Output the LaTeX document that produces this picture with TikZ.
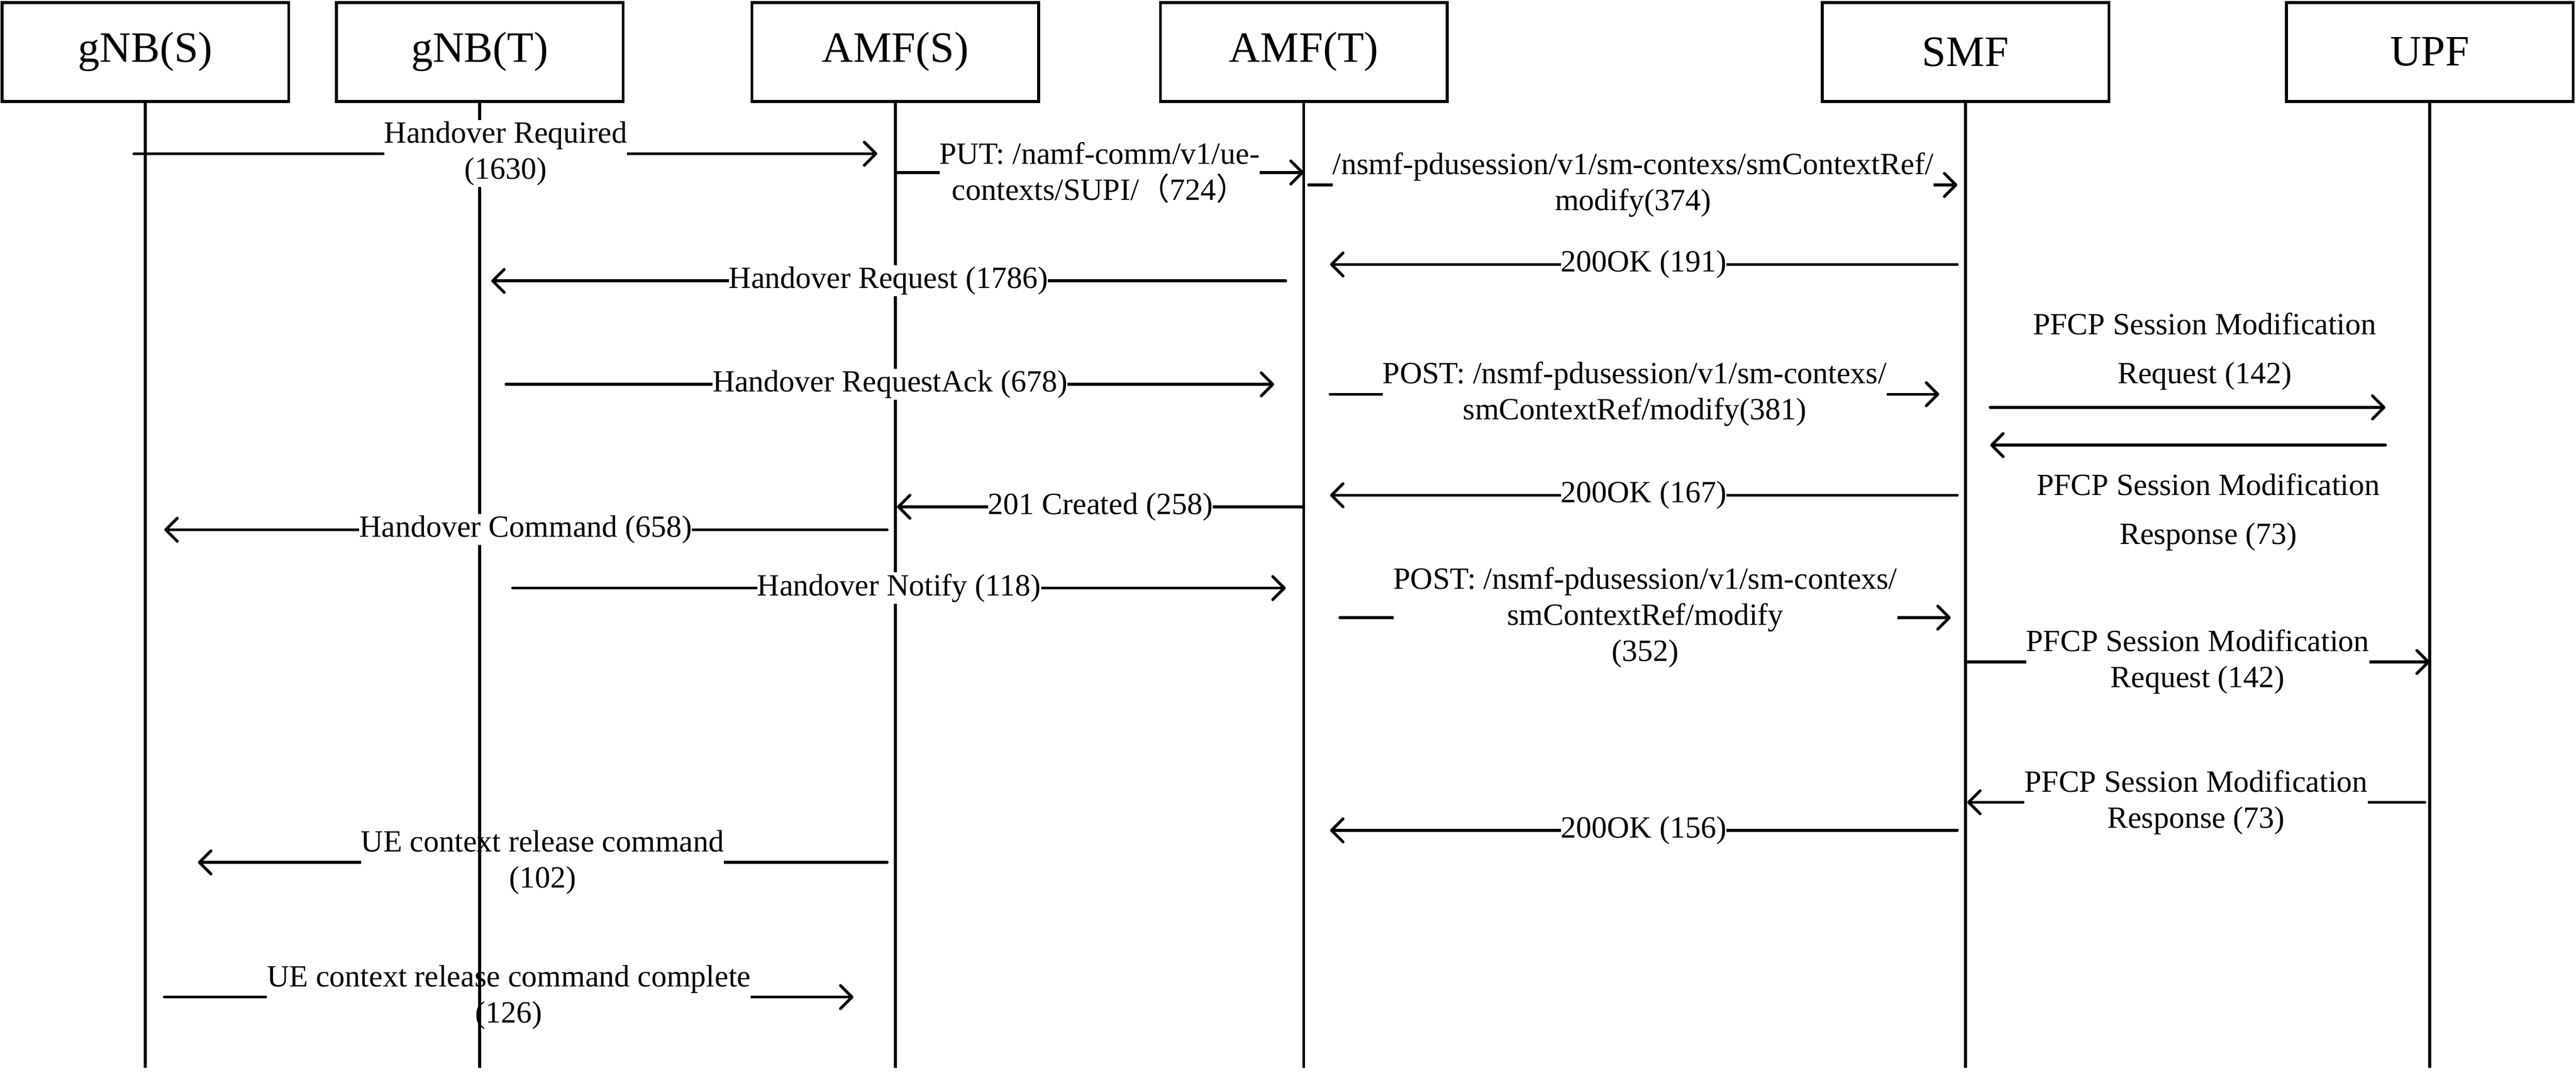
\documentclass[tikz,border=0pt]{standalone}
\usepackage{fontspec}
\setmainfont{Liberation Serif}
\newfontfamily\cjk{Noto Sans CJK SC}
\usetikzlibrary{calc,arrows.meta}

\begin{document}
\begin{tikzpicture}[
  x=0.2mm, y=-0.2mm,
  entity/.style={draw, line width=1pt, minimum width=34.9mm, minimum height=12.04mm,
    font=\fontsize{15}{18}\selectfont},
  life/.style={line width=1pt},
  msg/.style={-{Straight Barb[length=4pt, width=8pt, round]}, line width=1pt, line cap=round},
  lbl/.style={fill=white, inner xsep=0pt, inner ysep=0.5pt, align=center,
    font=\fontsize{10.7}{12.5}\selectfont},
  side/.style={inner sep=0pt, align=center, font=\fontsize{10.7}{12.5}\selectfont}
]
  \useasboundingbox (0,0) rectangle (1568,653);

  % network functions
  \node[entity] (gnbS) at (88.5,31.6) {gNB(S)};
  \node[entity] (gnbT) at (292,31.6) {gNB(T)};
  \node[entity] (amfS) at (545,31.6) {AMF(S)};
  \node[entity] (amfT) at (793.6,31.6) {AMF(T)};
  \node[entity] (smf) at (1196.4,31.6) {SMF};
  \node[entity] (upf) at (1479,31.6) {UPF};

  \foreach \n in {gnbS,gnbT,amfS,amfT,smf,upf}
    \draw[life] (\n.south) -- (\n |- 0,650);

  % handover preparation
  \draw[msg] ($(gnbS |- 0,93.6)+(-7,0)$) -- node[lbl]{Handover Required\\(1630)} ($(amfS |- 0,93.6)+(-11,0)$);
  \draw[msg] (amfS |- 0,105) -- node[lbl]{PUT: /namf-comm/v1/ue-\\contexts/SUPI/{\cjk （}724{\cjk ）}} (amfT |- 0,105);
  \draw[msg] ($(amfT |- 0,112.6)+(3,0)$) -- node[lbl]{/nsmf-pdusession/v1/sm-contexs/smContextRef/\\modify(374)} ($(smf |- 0,112.6)+(-5,0)$);
  \draw[msg] ($(smf |- 0,161)+(-5,0)$) -- node[lbl]{200OK (191)} ($(amfT |- 0,161)+(16,0)$);
  \draw[msg] ($(amfT |- 0,171)+(-11,0)$) -- node[lbl]{Handover Request (1786)} ($(gnbT |- 0,171)+(7,0)$);
  \draw[msg] ($(gnbT |- 0,234)+(16,0)$) -- node[lbl]{Handover RequestAck (678)} ($(amfT |- 0,234)+(-18,0)$);
  \draw[msg] ($(amfT |- 0,240)+(16,0)$) -- node[lbl]{POST: /nsmf-pdusession/v1/sm-contexs/\\smContextRef/modify(381)} ($(smf |- 0,240)+(-16,0)$);
  \draw[msg] ($(smf |- 0,248)+(15,0)$) -- node[side, xshift=2.06mm, yshift=6.8mm]{PFCP Session Modification\\[4.5pt]Request (142)} ($(upf |- 0,248)+(-27,0)$);
  \draw[msg] ($(upf |- 0,271)+(-27,0)$) -- node[side, xshift=2.5mm, yshift=-8.15mm]{PFCP Session Modification\\[4.5pt]Response (73)} ($(smf |- 0,271)+(15,0)$);
  \draw[msg] ($(smf |- 0,301.5)+(-5,0)$) -- node[lbl]{200OK (167)} ($(amfT |- 0,301.5)+(16,0)$);
  \draw[msg] (amfT |- 0,308.5) -- node[lbl]{201 Created (258)} ($(amfS |- 0,308.5)+(1,0)$);
  \draw[msg] ($(amfS |- 0,322.5)+(-5,0)$) -- node[lbl]{Handover Command (658)} ($(gnbS |- 0,322.5)+(11.5,0)$);

  % handover execution
  \draw[msg] ($(gnbT |- 0,358)+(20,0)$) -- node[lbl]{Handover Notify (118)} ($(amfT |- 0,358)+(-11,0)$);
  \draw[msg] ($(amfT |- 0,376)+(22,0)$) -- node[lbl]{POST: /nsmf-pdusession/v1/sm-contexs/\\smContextRef/modify\\(352)} ($(smf |- 0,376)+(-9,0)$);
  \draw[msg] (smf |- 0,403) -- node[lbl]{PFCP Session Modification\\Request (142)} (upf |- 0,403);
  \draw[msg] ($(upf |- 0,488.4)+(-3,0)$) -- node[lbl]{PFCP Session Modification\\Response (73)} ($(smf |- 0,488.4)+(1,0)$);
  \draw[msg] ($(smf |- 0,505.5)+(-5,0)$) -- node[lbl]{200OK (156)} ($(amfT |- 0,505.5)+(16,0)$);

  % release of the source side
  \draw[msg] ($(amfS |- 0,525)+(-5,0)$) -- node[lbl]{UE context release command\\(102)} ($(gnbS |- 0,525)+(32,0)$);
  \draw[msg] ($(gnbS |- 0,607)+(11.5,0)$) -- node[lbl]{UE context release command complete\\(126)} ($(amfS |- 0,607)+(-25.5,0)$);
  \draw[life] (gnbT |- 0,480) -- (gnbT |- 0,650);
\end{tikzpicture}
\end{document}
